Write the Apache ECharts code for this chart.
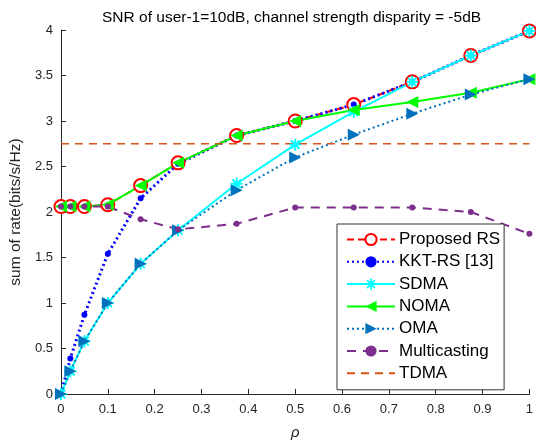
<!DOCTYPE html>
<html><head><meta charset="utf-8">
<script src="https://cdn.jsdelivr.net/npm/echarts@6/dist/echarts.min.js"></script>
<style>html,body{margin:0;padding:0;background:#fff}#c{width:536px;height:445px}</style>
</head><body><div id="c"></div>
<script>
const rho   = [0, 0.02, 0.05, 0.1, 0.17, 0.25, 0.375, 0.5, 0.625, 0.75, 0.875, 1];
const rs    = [2.06, 2.06, 2.06, 2.08, 2.29, 2.54, 2.84, 3.0, 3.18, 3.43, 3.72, 3.99];
const kkt   = [0, 0.39, 0.87, 1.54, 2.15, 2.53, 2.84, 3.0, 3.18, 3.43, 3.72, 3.99];
const sdma  = [0, 0.25, 0.58, 1.0, 1.43, 1.8, 2.31, 2.74, 3.1, 3.43, 3.72, 3.99];
const noma  = [2.06, 2.06, 2.06, 2.08, 2.29, 2.54, 2.84, 3.0, 3.12, 3.21, 3.31, 3.46];
const oma   = [0, 0.25, 0.58, 1.0, 1.43, 1.8, 2.24, 2.6, 2.85, 3.08, 3.29, 3.46];
const multi = [2.06, 2.06, 2.06, 2.06, 1.92, 1.81, 1.87, 2.05, 2.05, 2.05, 2.0, 1.76];
const tdmaX = [0, 1];
const tdmaV = [2.75, 2.75];
const names = ['Proposed RS', 'KKT-RS [13]', 'SDMA', 'NOMA', 'OMA', 'Multicasting', 'TDMA'];
const titleText = 'SNR of user-1=10dB, channel strength disparity = -5dB';

const pair = (xs, ys) => xs.map((x, i) => [x, ys[i]]);
const star = 'path://M-0.8,-5L0.8,-5L0.8,5L-0.8,5Z M-5,-0.8L5,-0.8L5,0.8L-5,0.8Z M-4.1,-3L-3,-4.1L4.1,3L3,4.1Z M3,-4.1L4.1,-3L-3,4.1L-4.1,3Z';
const font = 'Liberation Sans';

const chart = echarts.init(document.getElementById('c'));
chart.setOption({
  animation: false,
  backgroundColor: '#fff',
  title: { text: titleText, left: 97, top: 5,
    textStyle: { fontFamily: font, fontSize: 15.5, fontWeight: 'normal', color: '#000' } },
  grid: { left: 60, right: 4, top: 30, bottom: 44 },
  xAxis: { type: 'value', min: 0, max: 1, interval: 0.1,
    name: 'ρ', nameLocation: 'middle', nameGap: 31,
    nameTextStyle: { fontFamily: font, fontSize: 15, fontStyle: 'italic', color: '#262626' },
    axisLine: { lineStyle: { color: '#262626', width: 1 } },
    axisTick: { inside: true, length: 5, lineStyle: { color: '#262626' } },
    axisLabel: { fontFamily: font, fontSize: 13, color: '#262626', margin: 9 },
    splitLine: { show: false } },
  yAxis: { type: 'value', min: 0, max: 4, interval: 0.5,
    name: 'sum of rate(bits/s/Hz)', nameLocation: 'middle', nameGap: 31,
    nameTextStyle: { fontFamily: font, fontSize: 15.5, color: '#262626' },
    axisLine: { show: true, lineStyle: { color: '#262626', width: 1 } },
    axisTick: { show: true, inside: true, length: 5, lineStyle: { color: '#262626' } },
    axisLabel: { fontFamily: font, fontSize: 13, color: '#262626', margin: 8 },
    splitLine: { show: false } },
  legend: { orient: 'vertical', left: 337, top: 224,
    data: names.map((n, i) => i === 6
      ? { name: n, itemStyle: { opacity: 0 } }
      : { name: n }),
    backgroundColor: '#fff', borderColor: '#333', borderWidth: 1,
    padding: [7, 4, 8, 9], itemGap: 5.3, itemWidth: 48, itemHeight: 14,
    textStyle: { fontFamily: font, fontSize: 17, color: '#000', padding: [0, 0, 0, -1] } },
  series: [
    { name: names[0], type: 'line', data: pair(rho, rs), symbol: 'emptyCircle', symbolSize: 13,
      lineStyle: { color: '#ff0000', width: 2, type: [7, 4] },
      itemStyle: { color: '#ff0000', borderColor: '#ff0000', borderWidth: 3 } },
    { name: names[1], type: 'line', data: pair(rho, kkt), symbol: 'circle', symbolSize: 6,
      lineStyle: { color: '#0000ff', width: 3, type: [2, 3] },
      itemStyle: { color: '#0000ff' } },
    { name: names[2], type: 'line', data: pair(rho, sdma), symbol: star, symbolSize: 12,
      lineStyle: { color: '#00ffff', width: 2 },
      itemStyle: { color: '#00ffff' } },
    { name: names[3], type: 'line', data: pair(rho, noma), symbol: 'triangle', symbolSize: 12, symbolRotate: 90,
      lineStyle: { color: '#00ff00', width: 2 },
      itemStyle: { color: '#00ff00' } },
    { name: names[4], type: 'line', data: pair(rho, oma), symbol: 'triangle', symbolSize: 12, symbolRotate: -90,
      lineStyle: { color: '#0072bd', width: 2, type: [2, 3] },
      itemStyle: { color: '#0072bd' } },
    { name: names[5], type: 'line', data: pair(rho, multi), symbol: 'circle', symbolSize: 6,
      lineStyle: { color: '#7e2f8e', width: 2, type: [9, 7] },
      itemStyle: { color: '#7e2f8e' } },
    { name: names[6], type: 'line', data: pair(tdmaX, tdmaV), symbol: 'none', showSymbol: false,
      lineStyle: { color: '#d95319', width: 1.5, type: [8, 6] },
      itemStyle: { color: '#d95319' } }
  ]
});
</script></body></html>
